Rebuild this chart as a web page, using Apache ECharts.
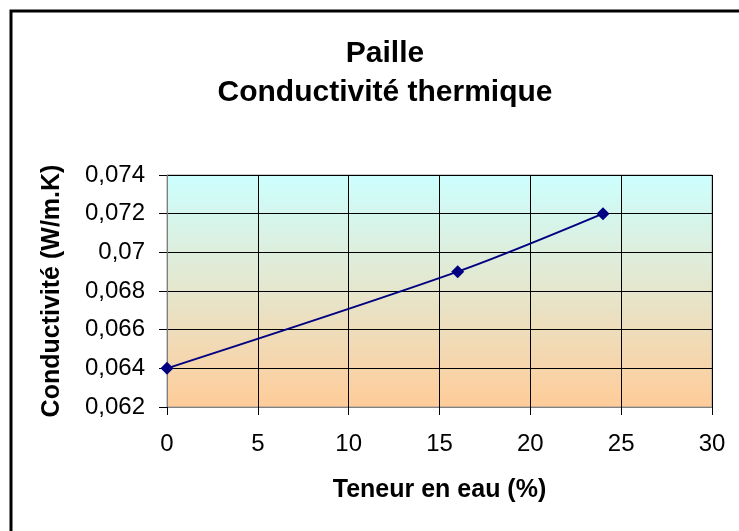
<!DOCTYPE html>
<html><head><meta charset="utf-8">
<script src="https://cdn.jsdelivr.net/npm/echarts@6/dist/echarts.min.js"></script>
<style>html,body{margin:0;padding:0;background:#fff}#c{width:739px;height:531px}</style>
</head><body><div id="c"></div>
<script>
var xValues = [0, 16, 24];
var yValues = [0.064, 0.069, 0.072];
var titleLines = ['Paille', 'Conductivité thermique'];
var xName = 'Teneur en eau (%)';
var yName = 'Conductivité (W/m.K)';

var FONT = 'Liberation Sans, Arial, sans-serif';
var chart = echarts.init(document.getElementById('c'));
var fmt = function (v) {
  var s = (+v.toFixed(3)).toString();
  return s.replace('.', ',');
};
chart.setOption({
  animation: false,
  backgroundColor: '#fff',
  textStyle: { fontFamily: FONT },
  title: {
    text: titleLines.join('\n'),
    left: 380, top: 29, textAlign: 'center',
    textStyle: { fontSize: 30, fontWeight: 'bold', color: '#000', lineHeight: 39, fontFamily: FONT }
  },
  graphic: [{
    type: 'rect', shape: { x: 11, y: 11, width: 760, height: 560 },
    style: { fill: 'none', stroke: '#000', lineWidth: 3 }, z: 100
  }],
  grid: { left: 167, top: 175, right: 27, bottom: 124,
    show: true, borderColor: '#999', borderWidth: 1,
    backgroundColor: new echarts.graphic.LinearGradient(0, 0, 0, 1, [
      { offset: 0, color: '#CCFFFF' }, { offset: 1, color: '#FFCC99' }]) },
  xAxis: {
    type: 'value', min: 0, max: 30, interval: 5,
    name: xName, nameLocation: 'middle', nameGap: 71,
    nameTextStyle: { fontSize: 25, fontWeight: 'bold', color: '#000', fontFamily: FONT },
    axisLine: { show: true, lineStyle: { color: '#808080', width: 1 } },
    axisTick: { show: true, length: 8, lineStyle: { color: '#000' } },
    axisLabel: { fontSize: 24, color: '#000', margin: 25 },
    splitLine: { show: true, lineStyle: { color: '#000', width: 1 } }
  },
  yAxis: {
    type: 'value', min: 0.062, max: 0.074, interval: 0.002,
    name: yName, nameLocation: 'middle', nameGap: 102, nameRotate: 90,
    nameTextStyle: { fontSize: 25, fontWeight: 'bold', color: '#000', fontFamily: FONT },
    axisLine: { show: true, lineStyle: { color: '#808080', width: 1 } },
    axisTick: { show: true, length: 8, lineStyle: { color: '#000' } },
    axisLabel: { fontSize: 24, color: '#000', margin: 22, formatter: fmt },
    splitLine: { show: true, lineStyle: { color: '#000', width: 1 } }
  },
  series: [{
    type: 'line',
    data: xValues.map(function (x, i) { return [x, yValues[i]]; }),
    smooth: 0.3,
    symbol: 'diamond', symbolSize: 13,
    lineStyle: { color: '#000080', width: 2 },
    itemStyle: { color: '#000080' }
  }]
});
</script></body></html>
